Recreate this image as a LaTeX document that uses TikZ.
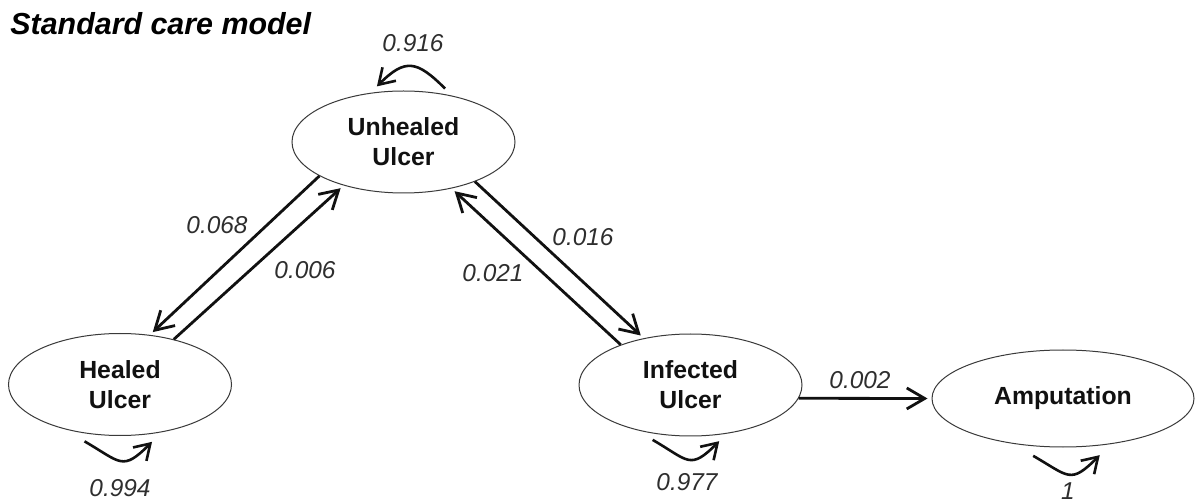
\documentclass[tikz,border=0pt]{standalone}
\usepackage{fontspec}
\setmainfont{Liberation Sans}
\usetikzlibrary{arrows.meta,shapes.geometric,positioning}
\definecolor{SCInk}{HTML}{111111}
\definecolor{SCLabel}{HTML}{2E2E2E}
\definecolor{SCEdge}{HTML}{3A3A3A}

\begin{document}
\begin{tikzpicture}[
      x=.5pt,y=-.5pt,
      stage/.style={ellipse,draw=SCEdge,line width=.5pt,inner sep=0pt,
        minimum width=111.5pt,minimum height=51pt,align=center,
        font=\fontsize{12.4}{15}\selectfont\bfseries,text=SCInk},
      prob/.style={font=\fontsize{12.2}{14}\selectfont\itshape,text=SCLabel,inner sep=0pt},
      arrow/.style={-{Straight Barb[length=9pt,width=10.5pt]},line width=1.4pt,SCInk,shorten >=2pt},
      selfloop/.style={-{Straight Barb[length=7.5pt,width=9.5pt]},line width=1.3pt,SCInk,looseness=1.6}
    ]
      \useasboundingbox (0,0) rectangle (1195,502);
      \node[anchor=base west,inner sep=0pt,font=\fontsize{15.2}{18}\selectfont\bfseries\itshape] (title) at (10,35) {Standard care model};
      \node[stage] (unhealed) at (403.5,142) {Unhealed\\Ulcer};
      \node[stage] (healed) at (120,384.5) {Healed\\Ulcer};
      \node[stage] (infected) at (690.5,385) {Infected\\Ulcer};
      \node[stage,minimum width=131pt,minimum height=48.5pt] (amputation) at (1063,398.5) {Amputation};
      \draw[arrow] (unhealed.202) -- (healed.59);
      \draw[arrow] (healed.40) -- (unhealed.216);
      \draw[arrow] (unhealed.331) -- (infected.135);
      \draw[arrow] (infected.150) -- (unhealed.316);
      \draw[arrow] (infected.-7) -- (amputation.west);
      \draw[selfloop,looseness=1.5] ([yshift=2.8pt]unhealed.49) to[out=135,in=45] ([yshift=2.8pt]unhealed.118);
      \draw[selfloop] ([yshift=-4pt]healed.234) to[out=-30,in=-135] ([yshift=-4pt]healed.303);
      \draw[selfloop] ([yshift=-3.2pt]infected.232) to[out=-30,in=-135] ([yshift=-3.2pt]infected.300);
      \draw[selfloop] ([yshift=-4.8pt]amputation.238) to[out=-30,in=-135] ([yshift=-4.8pt]amputation.308);
      \node[prob] (p916) at (413,43) {0.916};
      \node[prob] (p068) at (217,225) {0.068};
      \node[prob] (p006) at (305,270) {0.006};
      \node[prob] (p016) at (583,237) {0.016};
      \node[prob] (p021) at (493,273) {0.021};
      \node[prob] (p002) at (860,380) {0.002};
      \node[prob] (p994) at (120,488) {0.994};
      \node[prob] (p977) at (687,482) {0.977};
      \node[prob] (p1) at (1068,491) {1};
    \end{tikzpicture}
\end{document}
